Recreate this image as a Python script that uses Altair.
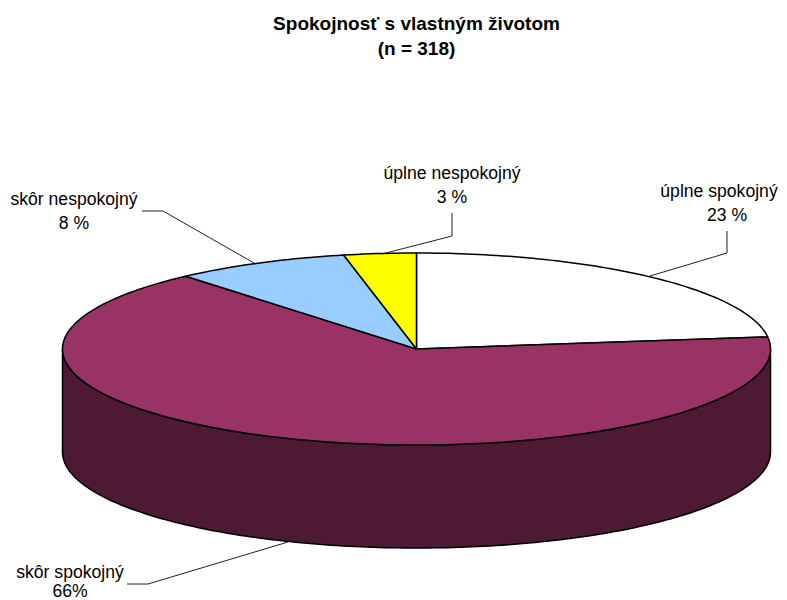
import math
import altair as alt
import pandas as pd

TITLE_LINES = ["Spokojnosť s vlastným životom", "(n = 318)"]
CATEGORIES = ["úplne spokojný", "skôr spokojný", "skôr nespokojný", "úplne nespokojný"]
SHARES = [23.0, 65.7, 8.0, 3.3]
VALUE_TEXT = ["23 %", "66%", "8 %", "3 %"]
COLORS = ["#FFFFFF", "#993366", "#99CCFF", "#FFFF00"]
SIDE_COLOR = "#4D1933"

# layout (page pixels)
CX, CY, RX, RY, DEPTH = 416.5, 349, 354, 96, 103
LABEL_X = [719, 70, 74, 452]
LABEL_Y = [192, 573, 200, 174]
VALUE_X = [727, 70, 74, 452]
VALUE_Y = [216, 592, 224, 198]
LEADER_X = [[650, 727, 727], [288, 148, 127], [254, 163, 142], [382, 452, 452]]
LEADER_Y = [[276, 253, 231], [542, 584, 584], [263, 211, 211], [254, 236, 213]]


def pt(angle, dy=0.0):
    a = math.radians(angle)
    return [CX + RX * math.sin(a), CY - RY * math.cos(a) + dy]


features = []
side = [pt(a) for a in range(90, 271)] + [pt(a, DEPTH) for a in range(270, 89, -1)]
side.append(side[0])
features.append({"type": "Feature", "properties": {"part": "side"},
                 "geometry": {"type": "Polygon", "coordinates": [side]}})
start = 0.0
for name, share in zip(CATEGORIES, SHARES):
    end = start + share * 3.6
    n = max(2, int(end - start))
    ring = [[CX, CY]] + [pt(start + (end - start) * i / n) for i in range(n + 1)] + [[CX, CY]]
    features.append({"type": "Feature", "properties": {"part": name},
                     "geometry": {"type": "Polygon", "coordinates": [ring]}})
    start = end

W, H = 771, 592
x_scale = alt.Scale(domain=[8, 8 + W], range=[0, W])
y_scale = alt.Scale(domain=[8, 8 + H], range=[0, H])
x_enc = alt.X("x:Q", scale=x_scale, axis=None)
y_enc = alt.Y("y:Q", scale=y_scale, axis=None)

pie = (
    alt.Chart(alt.Data(values=features))
    .mark_geoshape(filled=True, stroke="#000000", strokeWidth=1.5, strokeJoin="round")
    .encode(
        color=alt.Color(
            "properties.part:N",
            scale=alt.Scale(domain=["side"] + CATEGORIES, range=[SIDE_COLOR] + COLORS),
            legend=None,
        )
    )
    .project(type="identity", scale=1, translate=[-8, -8])
)

leader_rows = []
for name, xs, ys in zip(CATEGORIES, LEADER_X, LEADER_Y):
    for i, (x, y) in enumerate(zip(xs, ys)):
        leader_rows.append({"name": name, "i": i, "x": x, "y": y})
leaders = (
    alt.Chart(pd.DataFrame(leader_rows))
    .mark_line(color="#222222", strokeWidth=1)
    .encode(x=x_enc, y=y_enc, detail="name:N", order="i:Q")
)

label_rows = []
for name, val, x, y, vx, vy in zip(CATEGORIES, VALUE_TEXT, LABEL_X, LABEL_Y, VALUE_X, VALUE_Y):
    label_rows.append({"t": name, "x": x, "y": y})
    label_rows.append({"t": val, "x": vx, "y": vy})
labels = (
    alt.Chart(pd.DataFrame(label_rows))
    .mark_text(font="Liberation Sans", fontSize=17.6, color="#000000", align="center", baseline="middle")
    .encode(x=x_enc, y=y_enc, text="t:N")
)

title_rows = [{"t": TITLE_LINES[0], "x": 416.5, "y": 24}, {"t": TITLE_LINES[1], "x": 416.5, "y": 49}]
title = (
    alt.Chart(pd.DataFrame(title_rows))
    .mark_text(font="Liberation Sans", fontSize=19, fontWeight="bold", color="#000000", align="center", baseline="middle")
    .encode(x=x_enc, y=y_enc, text="t:N")
)

chart = (
    alt.layer(pie, leaders, labels, title)
    .properties(width=W, height=H, padding=0, autosize=alt.AutoSizeParams(type="none"))
    .configure_view(stroke=None)
)
chart.save("out.html", embed_options={"renderer": "svg", "actions": False})
